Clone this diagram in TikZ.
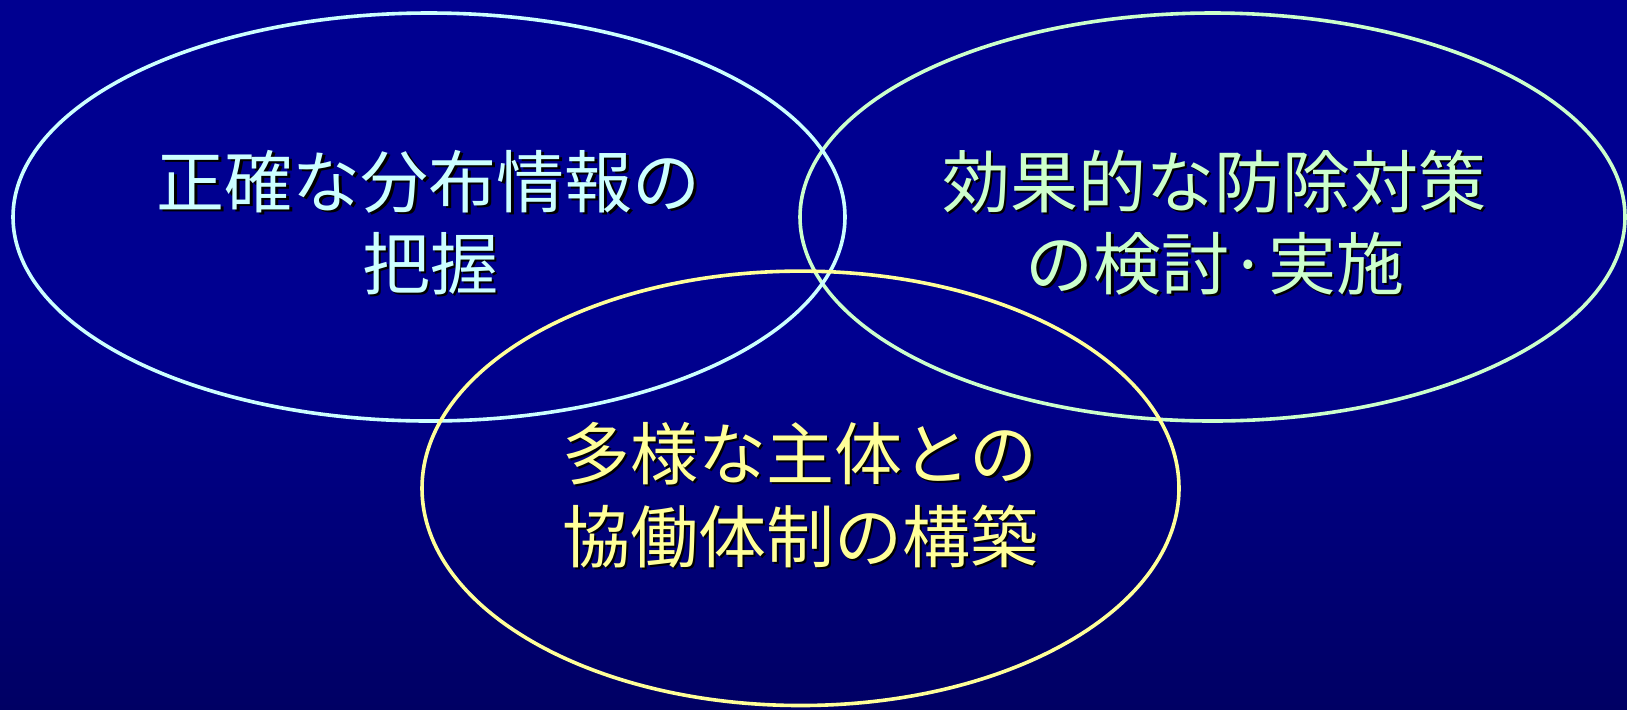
\documentclass[tikz,border=0pt]{standalone}
\usepackage{fontspec}
\newfontfamily\jp{Noto Sans CJK JP}
\definecolor{bgtop}{RGB}{0,0,144}
\definecolor{bgbot}{RGB}{0,0,100}
\definecolor{lcyan}{RGB}{204,255,255}
\definecolor{lgreen}{RGB}{204,255,204}
\definecolor{lyellow}{RGB}{255,255,153}
\newcommand\jtext[5]{%
  \node[txt,text=black,xshift=1.3pt,yshift=-1.3pt] (#1-shadow) at (#2,#3) {#5};
  \node[txt,text=#4] (#1) at (#2,#3) {#5};}
\begin{document}
\begin{tikzpicture}[x=0.5pt,y=-0.5pt,
  ring/.style={line width=1.8pt},
  txt/.style={anchor=base,inner sep=0pt,font=\jp\fontsize{34pt}{40pt}\selectfont}]
\fill[bgtop] (0,0) rectangle (1627,340);
\shade[top color=bgtop,bottom color=bgbot] (0,339) rectangle (1627,709);
\useasboundingbox (0,0) rectangle (1627,709);
% ellipses
\coordinate (cl) at (429,217);
\coordinate (cr) at (1212.5,217);
\coordinate (cb) at (800.5,488.3);
\draw[ring,lgreen] (cr) ellipse [x radius=206.25pt, y radius=102pt];
\draw[ring,lcyan] (cl) ellipse [x radius=208pt, y radius=102pt];
\draw[ring,lyellow] (cb) ellipse [x radius=189.25pt, y radius=108.6pt];
% texts
\jtext{l1}{428.5}{207}{lcyan}{正確な分布情報の}
\jtext{l2}{430}{289}{lcyan}{把握}
\jtext{r1}{1214}{207}{lgreen}{効果的な防除対策}
\jtext{r2}{1215}{289}{lgreen}{の検討·実施}
\jtext{b1}{800}{479}{lyellow}{多様な主体との}
\jtext{b2}{800}{562}{lyellow}{協働体制の構築}
\end{tikzpicture}
\end{document}
